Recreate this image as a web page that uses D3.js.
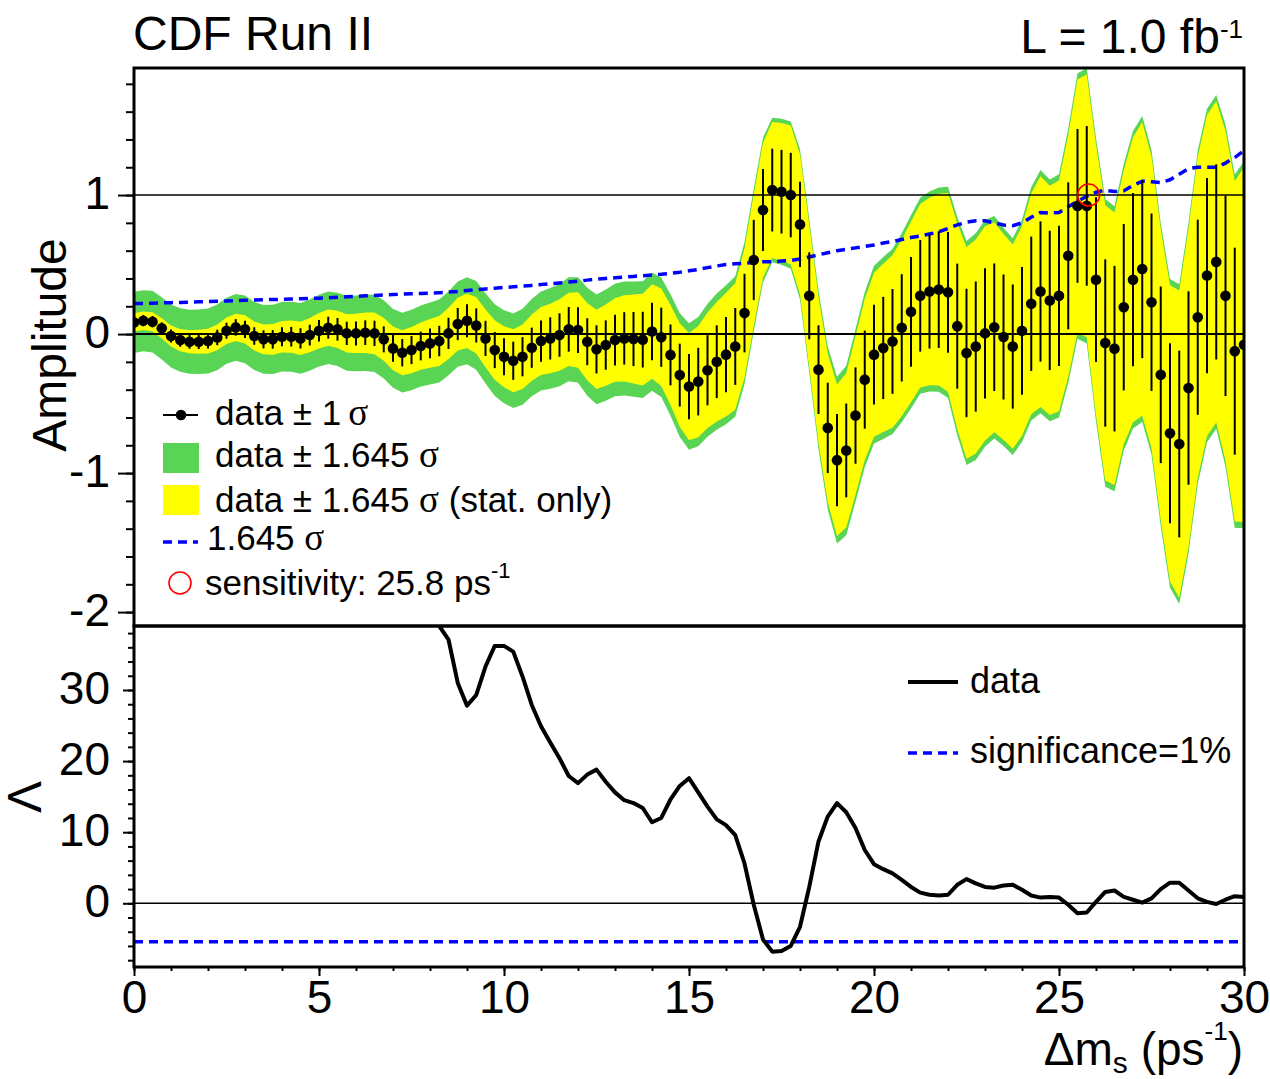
<!DOCTYPE html>
<html>
<head>
<meta charset="utf-8">
<script src="https://cdn.jsdelivr.net/npm/d3@7"></script>
<style>
  body { margin: 0; background: white; }
  svg { display: block; font-family: "Liberation Sans", Arial, Helvetica, sans-serif; }
</style>
</head>
<body>
<script>
// Amplitude scan, one point every 0.25 ps^-1 from 0 to 30
const scanStep = 0.25;
const amplitude = [
  0.084, 0.096, 0.089, 0.041, -0.014, -0.043, -0.055, -0.055, -0.05, -0.024,
  0.024, 0.048, 0.034, -0.014, -0.038, -0.038, -0.019, -0.019, -0.031, -0.007,
  0.024, 0.046, 0.034, 0.005, 0.005, 0.01, 0.005, -0.038, -0.103, -0.134,
  -0.115, -0.086, -0.067, -0.05, 0.005, 0.072, 0.096, 0.062, -0.031, -0.115,
  -0.163, -0.192, -0.163, -0.098, -0.05, -0.031, -0.007, 0.034, 0.029, -0.055,
  -0.11, -0.079, -0.043, -0.031, -0.036, -0.04, 0.018, -0.023, -0.15, -0.295,
  -0.378, -0.342, -0.26, -0.199, -0.148, -0.089, 0.151, 0.533, 0.892, 1.036,
  1.024, 1.0, 0.789, 0.275, -0.256, -0.675, -0.907, -0.837, -0.586, -0.328,
  -0.148, -0.1, -0.053, 0.045, 0.16, 0.275, 0.306, 0.32, 0.3, 0.057,
  -0.136, -0.09, 0.005, 0.049, -0.021, -0.09, 0.023, 0.218, 0.306, 0.242,
  0.275, 0.563, 0.922, 0.922, 0.391, -0.064, -0.105, 0.193, 0.391, 0.468,
  0.229, -0.293, -0.714, -0.791, -0.388, 0.121, 0.421, 0.519, 0.275, -0.123,
  -0.077
];
// 1.645 sigma (total) = blue dashed curve and green band half width
const sigma1645 = [
  0.22, 0.22, 0.222, 0.224, 0.226, 0.228, 0.23, 0.232, 0.234, 0.236,
  0.238, 0.24, 0.243, 0.245, 0.247, 0.249, 0.25, 0.252, 0.254, 0.256,
  0.258, 0.261, 0.264, 0.268, 0.272, 0.275, 0.278, 0.281, 0.284, 0.287,
  0.29, 0.292, 0.295, 0.298, 0.302, 0.307, 0.313, 0.319, 0.325, 0.33,
  0.335, 0.34, 0.345, 0.35, 0.356, 0.362, 0.368, 0.374, 0.38, 0.388,
  0.395, 0.4, 0.405, 0.41, 0.415, 0.42, 0.425, 0.43, 0.437, 0.445,
  0.455, 0.465, 0.478, 0.49, 0.5, 0.505, 0.51, 0.515, 0.52, 0.52,
  0.525, 0.53, 0.54, 0.555, 0.57, 0.585, 0.6, 0.61, 0.62, 0.63,
  0.64, 0.655, 0.665, 0.68, 0.695, 0.705, 0.72, 0.735, 0.76, 0.785,
  0.805, 0.815, 0.815, 0.8, 0.785, 0.78, 0.8, 0.84, 0.875, 0.87,
  0.875, 0.915, 0.955, 0.99, 1.02, 1.035, 1.025, 1.03, 1.07, 1.1,
  1.095, 1.09, 1.11, 1.15, 1.19, 1.2, 1.2, 1.2, 1.23, 1.27,
  1.32
];
// 1.645 sigma (stat. only) = yellow band half width
const sigma1645Stat = [
  0.065, 0.066, 0.068, 0.072, 0.076, 0.08, 0.083, 0.086, 0.089, 0.092,
  0.095, 0.098, 0.101, 0.104, 0.107, 0.11, 0.113, 0.116, 0.12, 0.123,
  0.127, 0.13, 0.134, 0.138, 0.142, 0.146, 0.15, 0.154, 0.158, 0.162,
  0.166, 0.17, 0.175, 0.18, 0.185, 0.19, 0.196, 0.202, 0.208, 0.214,
  0.22, 0.226, 0.232, 0.238, 0.244, 0.25, 0.257, 0.264, 0.271, 0.278,
  0.285, 0.292, 0.3, 0.31, 0.32, 0.33, 0.34, 0.35, 0.36, 0.372,
  0.385, 0.4, 0.415, 0.43, 0.445, 0.455, 0.465, 0.475, 0.485, 0.49,
  0.495, 0.5, 0.505, 0.515, 0.525, 0.535, 0.545, 0.555, 0.57, 0.58,
  0.59, 0.605, 0.62, 0.635, 0.65, 0.66, 0.675, 0.69, 0.715, 0.74,
  0.76, 0.77, 0.77, 0.755, 0.74, 0.735, 0.755, 0.795, 0.83, 0.825,
  0.83, 0.87, 0.91, 0.945, 0.975, 0.99, 0.98, 0.985, 1.025, 1.055,
  1.05, 1.045, 1.065, 1.105, 1.145, 1.155, 1.155, 1.155, 1.185, 1.225,
  1.275
];
// Likelihood ratio Lambda, from 8 ps^-1 on (same step)
const lambdaStart = 8.0;
const lambda = [
  44, 39.0, 37.1, 31.0, 27.8, 29.3, 33.3, 36.2, 36.2, 35.4,
  31.9, 27.9, 24.9, 22.6, 20.4, 17.9, 16.9, 18.1, 18.8, 17.1,
  15.6, 14.5, 14.1, 13.4, 11.4, 12.0, 14.6, 16.5, 17.6, 15.6,
  13.6, 11.8, 11.0, 9.6, 5.6, -0.2, -5.1, -6.8, -6.7, -6.0,
  -3.3, 2.3, 8.7, 12.2, 14.1, 12.8, 10.6, 7.5, 5.5, 4.8,
  4.2, 3.3, 2.3, 1.5, 1.2, 1.1, 1.2, 2.6, 3.4, 2.8,
  2.3, 2.2, 2.5, 2.6, 1.9, 1.1, 0.8, 0.9, 0.8, -0.2,
  -1.4, -1.3, 0.2, 1.6, 1.8, 0.9, 0.5, 0.1, 0.7, 2.0,
  2.9, 2.9, 1.8, 0.7, 0.2, -0.1, 0.5, 1.0, 0.9
];
const significance1pct = -5.4;
const sensitivity = { dms: 25.8, amp: 1.0 };

const ampTicks = [-2, -1, 0, 1];
const lambdaTicks = [0, 10, 20, 30];
const dmsTicks = [0, 5, 10, 15, 20, 25, 30];

const width = 1270, height = 1079;
const green = "#59d454", yellow = "#ffff00", blue = "#0000ff";
const fontFam = '"Liberation Sans", Arial, Helvetica, sans-serif';
const symFam = '"Liberation Serif", "DejaVu Serif", serif';

const left = 134, right = 1244, topY = 68, midY = 626, botY = 967;

const x = d3.scaleLinear().domain([0, 30]).range([left, right]);
const yA = d3.scaleLinear().domain([-2.1, 1.914]).range([midY, topY]);
const yL = d3.scaleLinear().domain([-8.96, 39]).range([botY, midY]);

const pts = amplitude.map((a, i) => ({
  dms: i * scanStep, a: a, s: sigma1645[i], st: sigma1645Stat[i]
}));
const lam = lambda.map((v, i) => ({ dms: lambdaStart + i * scanStep, v: v }));

const svg = d3.select("body")
  .append("svg")
    .attr("width", width)
    .attr("height", height)
    .attr("viewBox", [0, 0, width, height]);

svg.append("rect").attr("width", width).attr("height", height).attr("fill", "white");

const defs = svg.append("defs");
defs.append("clipPath").attr("id", "clipTop")
  .append("rect").attr("x", left).attr("y", topY).attr("width", right - left).attr("height", midY - topY);
defs.append("clipPath").attr("id", "clipBot")
  .append("rect").attr("x", left).attr("y", midY).attr("width", right - left).attr("height", botY - midY);

// ---------- top panel: amplitude ----------
const ampG = svg.append("g").attr("clip-path", "url(#clipTop)");

ampG.append("path")
    .datum(pts)
    .attr("fill", green)
    .attr("d", d3.area()
      .x(d => x(d.dms))
      .y0(d => yA(d.a - d.s))
      .y1(d => yA(d.a + d.s)));

ampG.append("path")
    .datum(pts)
    .attr("fill", yellow)
    .attr("d", d3.area()
      .x(d => x(d.dms))
      .y0(d => yA(d.a - d.st))
      .y1(d => yA(d.a + d.st)));

// reference lines at 0 and 1
ampG.selectAll("line.ref")
  .data([{v: 1, w: 1.5}, {v: 0, w: 2}])
  .enter()
  .append("line")
    .attr("x1", left).attr("x2", right)
    .attr("y1", d => yA(d.v)).attr("y2", d => yA(d.v))
    .attr("stroke", "black")
    .attr("stroke-width", d => d.w);

// 1.645 sigma curve
ampG.append("path")
    .datum(pts)
    .attr("fill", "none")
    .attr("stroke", blue)
    .attr("stroke-width", 3.5)
    .attr("stroke-dasharray", "9,6")
    .attr("d", d3.line().x(d => x(d.dms)).y(d => yA(d.s)));

// error bars, length (follows the stat. band)
ampG.selectAll("line.err")
  .data(pts)
  .enter()
  .append("line")
    .attr("x1", d => x(d.dms)).attr("x2", d => x(d.dms))
    .attr("y1", d => yA(d.a - d.st / 1.645))
    .attr("y2", d => yA(d.a + d.st / 1.645))
    .attr("stroke", "black")
    .attr("stroke-width", 2);

ampG.selectAll("circle.pt")
  .data(pts)
  .enter()
  .append("circle")
    .attr("cx", d => x(d.dms))
    .attr("cy", d => yA(d.a))
    .attr("r", 5.3)
    .attr("fill", "black");

// sensitivity marker
ampG.append("circle")
    .attr("cx", x(sensitivity.dms))
    .attr("cy", yA(sensitivity.amp))
    .attr("r", 11)
    .attr("fill", "none")
    .attr("stroke", "red")
    .attr("stroke-width", 1.6);

// ---------- bottom panel: Lambda ----------
const lamG = svg.append("g").attr("clip-path", "url(#clipBot)");

lamG.append("line")
    .attr("x1", left).attr("x2", right)
    .attr("y1", yL(0)).attr("y2", yL(0))
    .attr("stroke", "black")
    .attr("stroke-width", 1.5);

lamG.append("line")
    .attr("x1", left).attr("x2", right)
    .attr("y1", yL(significance1pct)).attr("y2", yL(significance1pct))
    .attr("stroke", blue)
    .attr("stroke-width", 3.5)
    .attr("stroke-dasharray", "9,6");

lamG.append("path")
    .datum(lam)
    .attr("fill", "none")
    .attr("stroke", "black")
    .attr("stroke-width", 4)
    .attr("stroke-linejoin", "round")
    .attr("d", d3.line().x(d => x(d.dms)).y(d => yL(d.v)));

// ---------- axes ----------
function styleAxis(g) {
  g.select(".domain").remove();
  g.attr("font-size", 46).attr("font-family", fontFam);
  g.selectAll(".tick line").attr("stroke", "black").attr("stroke-width", 2);
  g.selectAll(".tick text").attr("fill", "black");
}

svg.append("g")
    .attr("transform", `translate(${left},0)`)
    .call(d3.axisLeft(yA).tickValues(ampTicks).tickSize(16).tickPadding(8).tickFormat(d => String(d)))
    .call(styleAxis)
    .selectAll(".tick text").attr("dy", "0.29em");
svg.append("g")
    .attr("transform", `translate(${left},0)`)
    .call(d3.axisLeft(yA).tickValues(d3.range(-2, 1.85, 0.2)).tickSize(8).tickFormat(""))
    .call(styleAxis);

svg.append("g")
    .attr("transform", `translate(${left},0)`)
    .call(d3.axisLeft(yL).tickValues(lambdaTicks).tickSize(11).tickPadding(13).tickFormat(d => String(d)))
    .call(styleAxis)
    .selectAll(".tick text").attr("dy", "0.29em");
svg.append("g")
    .attr("transform", `translate(${left},0)`)
    .call(d3.axisLeft(yL).tickValues(d3.range(-8, 39, 2)).tickSize(6).tickFormat(""))
    .call(styleAxis);

svg.append("g")
    .attr("transform", `translate(0,${botY})`)
    .call(d3.axisBottom(x).tickValues(dmsTicks).tickSize(9).tickPadding(4).tickFormat(d => String(d)))
    .call(styleAxis);
svg.append("g")
    .attr("transform", `translate(0,${botY})`)
    .call(d3.axisBottom(x).tickValues(d3.range(0, 31, 1)).tickSize(4).tickFormat(""))
    .call(styleAxis);

// frames
svg.append("rect")
    .attr("x", left).attr("y", topY)
    .attr("width", right - left).attr("height", midY - topY)
    .attr("fill", "none").attr("stroke", "black").attr("stroke-width", 3);
svg.append("rect")
    .attr("x", left).attr("y", midY)
    .attr("width", right - left).attr("height", botY - midY)
    .attr("fill", "none").attr("stroke", "black").attr("stroke-width", 3);

// ---------- titles ----------
svg.append("text")
    .attr("x", 133).attr("y", 50)
    .attr("font-size", 48)
    .text("CDF Run II");

// dy shifts keep the whole label one anchored chunk
const lumi = svg.append("text")
    .attr("x", 1243).attr("y", 53)
    .attr("font-size", 48)
    .attr("text-anchor", "end");
lumi.append("tspan").text("L = 1.0 fb");
lumi.append("tspan").attr("dy", -15).attr("font-size", 26).text("-1");

svg.append("text")
    .attr("transform", "translate(66,345) rotate(-90)")
    .attr("text-anchor", "middle")
    .attr("font-size", 48)
    .text("Amplitude");

svg.append("text")
    .attr("transform", "translate(41,797) rotate(-90)")
    .attr("text-anchor", "middle")
    .attr("font-size", 48)
    .text("Λ");

const xTitle = svg.append("text")
    .attr("x", 1243).attr("y", 1065)
    .attr("font-size", 46)
    .attr("text-anchor", "end");
xTitle.append("tspan").text("Δm");
xTitle.append("tspan").attr("dy", 8).attr("font-size", 30).text("s");
xTitle.append("tspan").attr("dy", -8).text(" (ps");
xTitle.append("tspan").attr("dy", -25).attr("font-size", 26).text("-1");
xTitle.append("tspan").attr("dy", 25).text(")");

// ---------- top legend ----------
const legFont = 35;
const lx0 = 163, lx1 = 198;

svg.append("line")
    .attr("x1", lx0).attr("x2", lx1).attr("y1", 415).attr("y2", 415)
    .attr("stroke", "black").attr("stroke-width", 2);
svg.append("circle").attr("cx", 181).attr("cy", 415).attr("r", 5.3).attr("fill", "black");
svg.append("rect").attr("x", lx0).attr("y", 443).attr("width", 36).attr("height", 30).attr("fill", green);
svg.append("rect").attr("x", lx0).attr("y", 485).attr("width", 36).attr("height", 30).attr("fill", yellow);
svg.append("line")
    .attr("x1", lx0).attr("x2", lx1).attr("y1", 542).attr("y2", 542)
    .attr("stroke", blue).attr("stroke-width", 3.5).attr("stroke-dasharray", "9,6");
svg.append("circle")
    .attr("cx", 180).attr("cy", 583).attr("r", 11)
    .attr("fill", "none").attr("stroke", "red").attr("stroke-width", 1.6);

const legRows = [
  { y: 425, x: 215, pre: "data ± 1\u2009", post: "" },
  { y: 467, x: 215, pre: "data ± 1.645 ", post: "" },
  { y: 512, x: 215, pre: "data ± 1.645 ", post: " (stat. only)" },
  { y: 550, x: 207, pre: "1.645 ", post: "" }
];
legRows.forEach(r => {
  const t = svg.append("text")
      .attr("x", r.x).attr("y", r.y)
      .attr("font-size", legFont);
  t.append("tspan").text(r.pre);
  t.append("tspan").attr("font-family", symFam).attr("font-size", legFont + 2).text("σ");
  if (r.post) t.append("tspan").text(r.post);
});

const sensText = svg.append("text")
    .attr("x", 205).attr("y", 595)
    .attr("font-size", legFont);
sensText.append("tspan").text("sensitivity: 25.8 ps");
sensText.append("tspan").attr("dy", -17).attr("font-size", 22).text("-1");

// ---------- bottom legend ----------
svg.append("line")
    .attr("x1", 908).attr("x2", 958).attr("y1", 682).attr("y2", 682)
    .attr("stroke", "black").attr("stroke-width", 4);
svg.append("text")
    .attr("x", 970).attr("y", 693)
    .attr("font-size", 36)
    .text("data");
svg.append("line")
    .attr("x1", 908).attr("x2", 958).attr("y1", 753).attr("y2", 753)
    .attr("stroke", blue).attr("stroke-width", 3.5).attr("stroke-dasharray", "9,6");
svg.append("text")
    .attr("x", 970).attr("y", 763)
    .attr("font-size", 36)
    .text("significance=1%");
</script>
</body>
</html>
